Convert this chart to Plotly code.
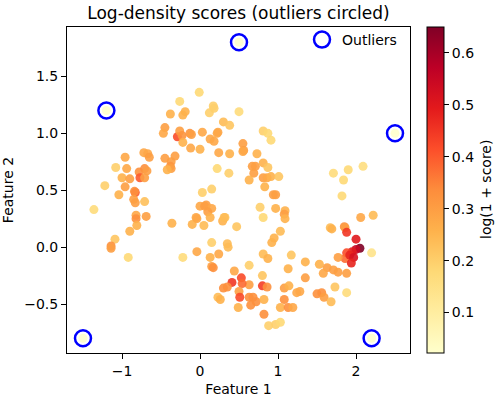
import plotly.graph_objects as go
import plotly.colors as pc

# two-moons points and their log-density scores
feature_1 = [
    -0.01, -0.26, -0.19, -0.22, -0.38, -0.45, -0.47, -0.29, -0.26, -0.23,
    -0.22, -0.13, -0.11, 0.03, -0.12, 0.00, -0.72, -0.67, -0.65, -0.96,
    -0.45, -0.32, -0.37, -0.38, -0.37, -0.42, -1.08, -0.94, -0.78, -0.71,
    -0.68, -0.77, -0.71, -1.00, -0.90, -1.22, -0.96, -0.83, -0.84, -0.85,
    -0.83, -0.71, -1.04, 0.03, -1.36, -0.82, -0.82, -0.69, 0.00, 0.06,
    -0.05, -0.81, -0.90, -0.36, -1.09, -1.14, -1.14, -0.92,
    0.17, 0.12, 0.18, 0.50, 0.30, 0.38, 0.23, 0.22, 0.13, 0.18,
    0.24, 0.38, 0.81, 0.87, 0.91, 0.55, 0.56, 0.55, 0.73, 0.67,
    0.71, 0.81, 0.87, 0.69, 0.81, 0.86, 0.91, 1.01, 0.63, 0.83,
    0.94, 0.97, 0.77, 0.97, 0.81, 1.09, 0.22, 0.37, 0.15, 0.08,
    0.15, 0.10, 0.13, 0.32,
    1.71, 1.90, 2.09, 1.84, 1.82, 1.08, 1.09, 1.03, 0.95, 0.92,
    1.17, 1.67, 1.69, 1.85, 1.86, 1.88, 2.06, 2.22, 2.00, 2.05,
    2.00, 1.95, 1.88, 1.86, 1.92, 1.97, 1.94, 2.20, 1.77,
    1.35, 1.53, 1.63, 1.71, 1.77, 1.58, 1.88, 1.13, 1.35, 1.73,
    1.88, 1.08, 1.14, 1.24, 1.28, 1.50, 1.56, 1.59, 1.68, 1.08,
    1.03, 1.13, 1.19,
    -0.10, -0.04, 0.05, 0.29, 0.31, 0.47, 0.15, 0.35, 0.36, -0.22,
    -0.04, 0.13, 0.24, 0.15, 0.17, 0.44, 0.63, 0.81, 0.87, 0.80,
    0.63, 0.41, 0.53, 0.54, 0.30, 0.35, 0.50, 0.80, 0.86, 0.23,
    0.26, 0.51, 0.63, 0.68, 0.72, 0.65, 0.49, 0.82, 0.82, 0.88,
    0.97, 1.03,
]
feature_2 = [
    1.36, 1.28, 1.19, 1.16, 1.17, 1.05, 1.00, 0.97, 1.02, 0.98,
    0.92, 1.00, 0.99, 1.01, 0.87, 0.86, 0.83, 0.82, 0.79, 0.79,
    0.78, 0.80, 0.75, 0.71, 0.69, 0.68, 0.70, 0.69, 0.66, 0.69,
    0.67, 0.61, 0.61, 0.61, 0.60, 0.54, 0.53, 0.48, 0.49, 0.42,
    0.39, 0.40, 0.46, 0.48, 0.33, 0.28, 0.25, 0.27, 0.36, 0.36,
    0.26, 0.19, 0.14, 0.21, 0.07, 0.01, -0.01, -0.09,
    1.24, 1.18, 1.22, 1.19, 1.10, 1.07, 1.01, 1.00, 0.95, 0.93,
    0.83, 0.82, 1.02, 1.00, 0.94, 0.91, 0.85, 0.84, 0.82, 0.71,
    0.71, 0.74, 0.70, 0.65, 0.61, 0.61, 0.62, 0.62, 0.59, 0.53,
    0.46, 0.46, 0.35, 0.34, 0.26, 0.32, 0.69, 0.65, 0.51, 0.37,
    0.34, 0.31, 0.26, 0.26,
    0.65, 0.68, 0.71, 0.59, 0.45, 0.29, 0.25, 0.14, 0.08, 0.04,
    -0.07, 0.17, 0.16, 0.18, 0.17, 0.13, 0.26, 0.28, 0.07, -0.01,
    -0.02, -0.04, -0.05, -0.10, -0.07, -0.09, -0.14, -0.05, -0.09,
    -0.13, -0.15, -0.18, -0.20, -0.22, -0.23, -0.23, -0.19, -0.27, -0.35,
    -0.40, -0.36, -0.34, -0.40, -0.39, -0.41, -0.40, -0.44, -0.48, -0.46,
    -0.53, -0.53, -0.53,
    0.20, 0.25, 0.19, 0.23, 0.26, 0.18, 0.04, 0.03, 0.00, -0.09,
    -0.04, -0.09, -0.06, -0.17, -0.18, -0.21, -0.16, -0.06, -0.10, -0.25,
    -0.33, -0.31, -0.27, -0.32, -0.36, -0.35, -0.39, -0.34, -0.35, -0.44,
    -0.46, -0.44, -0.44, -0.44, -0.48, -0.51, -0.53, -0.46, -0.59, -0.69,
    -0.68, -0.66,
]
log_score = [
    0.18, 0.18, 0.26, 0.26, 0.26, 0.30, 0.28, 0.42, 0.30, 0.32,
    0.26, 0.32, 0.30, 0.28, 0.28, 0.26, 0.28, 0.28, 0.30, 0.28,
    0.30, 0.30, 0.30, 0.32, 0.30, 0.26, 0.20, 0.28, 0.33, 0.33,
    0.30, 0.40, 0.30, 0.26, 0.30, 0.20, 0.30, 0.40, 0.33, 0.30,
    0.30, 0.23, 0.26, 0.20, 0.17, 0.28, 0.33, 0.30, 0.28, 0.30,
    0.28, 0.26, 0.26, 0.26, 0.22, 0.33, 0.30, 0.18,
    0.20, 0.20, 0.20, 0.17, 0.24, 0.22, 0.28, 0.28, 0.28, 0.28,
    0.28, 0.26, 0.20, 0.18, 0.18, 0.30, 0.30, 0.28, 0.26, 0.30,
    0.30, 0.26, 0.22, 0.30, 0.30, 0.28, 0.26, 0.22, 0.26, 0.26,
    0.30, 0.30, 0.20, 0.26, 0.18, 0.26, 0.18, 0.20, 0.20, 0.30,
    0.28, 0.30, 0.26, 0.22,
    0.17, 0.18, 0.16, 0.18, 0.18, 0.30, 0.26, 0.24, 0.26, 0.26,
    0.22, 0.24, 0.26, 0.33, 0.30, 0.45, 0.28, 0.24, 0.50, 0.65,
    0.55, 0.50, 0.42, 0.38, 0.48, 0.52, 0.48, 0.14, 0.30,
    0.26, 0.26, 0.30, 0.30, 0.30, 0.28, 0.30, 0.26, 0.30, 0.22,
    0.17, 0.30, 0.26, 0.28, 0.28, 0.33, 0.33, 0.30, 0.24, 0.33,
    0.26, 0.33, 0.28,
    0.26, 0.28, 0.24, 0.26, 0.24, 0.22, 0.20, 0.24, 0.24, 0.17,
    0.28, 0.26, 0.28, 0.30, 0.33, 0.28, 0.20, 0.24, 0.26, 0.22,
    0.30, 0.45, 0.42, 0.38, 0.33, 0.33, 0.30, 0.44, 0.33, 0.24,
    0.26, 0.42, 0.33, 0.33, 0.33, 0.33, 0.26, 0.26, 0.33, 0.20,
    0.20, 0.18,
]

# injected outliers
outlier_x = [-1.5, -1.2, 0.5, 2.5, 2.2]
outlier_y = [-0.8, 1.2, 1.8, 1.0, -0.8]
outlier_score = [0.022, 0.022, 0.022, 0.022, 0.022]

font = "DejaVu Sans"

fig = go.Figure()

fig.add_trace(
    go.Scatter(
        x=feature_1 + outlier_x,
        y=feature_2 + outlier_y,
        mode="markers",
        showlegend=False,
        marker=dict(
            size=9,
            color=log_score + outlier_score,
            colorscale=pc.sequential.YlOrRd,
            opacity=0.9,
            line=dict(width=0),
            colorbar=dict(
                thickness=17,
                len=1,
                lenmode="fraction",
                x=1.05,
                xanchor="left",
                y=0.5,
                yanchor="middle",
                xpad=0,
                ypad=0,
                outlinecolor="black",
                outlinewidth=1,
                ticks="outside",
                ticklen=5,
                tickcolor="black",
                tickvals=[0.1, 0.2, 0.3, 0.4, 0.5, 0.6],
                tickfont=dict(size=14),
            ),
        ),
    )
)

# blue rings around the outliers
fig.add_trace(
    go.Scatter(
        x=outlier_x,
        y=outlier_y,
        mode="markers",
        name="Outliers",
        marker=dict(
            symbol="circle-open",
            size=16,
            color="blue",
            line=dict(width=2.5, color="blue"),
        ),
    )
)

# colorbar label, placed by hand next to the tick labels
fig.add_annotation(
    text="log(1 + score)",
    x=1.2216,
    y=0.5,
    xref="paper",
    yref="paper",
    xanchor="center",
    yanchor="middle",
    textangle=-90,
    showarrow=False,
    font=dict(size=14),
)

fig.update_layout(
    width=500,
    height=400,
    margin=dict(l=67, r=90, t=27, b=47, autoexpand=False),
    paper_bgcolor="white",
    plot_bgcolor="white",
    font=dict(family=font, size=14, color="black"),
    title=dict(
        text="Log-density scores (outliers circled)",
        x=0.5,
        xref="paper",
        xanchor="center",
        y=1 - 13 / 400,
        yref="container",
        yanchor="middle",
        font=dict(size=17),
    ),
    legend=dict(
        x=402 / 500,
        y=1 - 24 / 400,
        xref="container",
        yref="container",
        xanchor="right",
        yanchor="top",
        bgcolor="rgba(255,255,255,0)",
        font=dict(size=14),
    ),
)

fig.update_xaxes(
    range=[-1.705, 2.692],
    tickvals=[-1, 0, 1, 2],
    ticktext=["\u22121", "0", "1", "2"],
    title=dict(text="Feature 1", standoff=6, font=dict(size=14)),
    automargin=False,
    showgrid=False,
    zeroline=False,
    showline=True,
    mirror=True,
    linecolor="black",
    linewidth=1,
    ticks="outside",
    ticklen=5,
    tickcolor="black",
)
fig.update_yaxes(
    range=[-0.930, 1.934],
    tickvals=[-0.5, 0.0, 0.5, 1.0, 1.5],
    ticktext=["\u22120.5", "0.0", "0.5", "1.0", "1.5"],
    title=dict(text="Feature 2", standoff=8, font=dict(size=14)),
    automargin=False,
    showgrid=False,
    zeroline=False,
    showline=True,
    mirror=True,
    linecolor="black",
    linewidth=1,
    ticks="outside",
    ticklen=5,
    tickcolor="black",
)

# the page's default body margin would push the figure 8px off its place
fig.write_html(
    "out.html",
    config={"displayModeBar": False},
    post_script="document.body.style.margin = '0';",
)
